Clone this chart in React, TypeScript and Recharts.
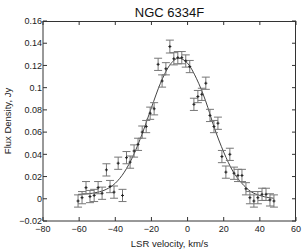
import { ComposedChart, Scatter, Line, XAxis, YAxis, ErrorBar } from 'recharts';

// measured spectrum (km/s, Jy)
const velocity = [
  -60.6, -58.4, -56.2, -54.0, -51.7, -49.5, -47.3, -44.9, -42.9, -40.7,
  -38.4, -36.0, -33.8, -31.8, -29.6, -27.4, -25.1, -22.9, -20.7, -18.5,
  -16.3, -14.1, -12.0, -9.8, -7.6, -5.4, -3.2, -1.0, 1.2, 3.5,
  5.7, 7.9, 10.1, 12.4, 14.6, 16.8, 19.0, 21.2, 23.4, 25.7,
  27.9, 30.1, 32.3, 34.5, 36.7, 38.9, 41.2, 43.4, 45.6, 47.8,
];
const flux = [
  -0.002, 0.001, 0.010, 0.002, 0.003, 0.010, 0.005, 0.026, 0.011, 0.006,
  0.032, 0.003, 0.037, 0.033, 0.043, 0.049, 0.060, 0.065, 0.077, 0.081,
  0.121, 0.106, 0.117, 0.137, 0.126, 0.127, 0.127, 0.124, 0.119, 0.085,
  0.092, 0.094, 0.104, 0.075, 0.065, 0.068, 0.038, 0.024, 0.040, 0.023,
  0.021, 0.021, 0.009, 0.001, -0.002, 0.001, 0.004, 0.004, -0.001, -0.002,
];
const fluxErr = [
  0.0055, 0.0055, 0.0055, 0.0055, 0.0055, 0.0055, 0.0055, 0.0055, 0.0055, 0.0055,
  0.0055, 0.0055, 0.0055, 0.0055, 0.0055, 0.0055, 0.0055, 0.0055, 0.0055, 0.0055,
  0.0055, 0.0055, 0.0055, 0.0058, 0.0055, 0.0055, 0.0055, 0.0055, 0.0055, 0.0055,
  0.0055, 0.0055, 0.0055, 0.0055, 0.0055, 0.0055, 0.0055, 0.0055, 0.0055, 0.0055,
  0.0055, 0.0055, 0.0055, 0.0055, 0.0055, 0.0055, 0.0055, 0.0055, 0.0055, 0.0055,
];

// fitted profile
const fitVelocity = [
  -60.6, -55, -50, -45, -40, -35, -30, -25, -20, -15, -10, -5,
  0, 5, 10, 15, 20, 25, 30, 35, 40, 45, 47.8,
];
const fitFlux = [
  0.004, 0.0045, 0.0058, 0.0085, 0.014, 0.024, 0.039, 0.059, 0.082, 0.104, 0.120, 0.1265,
  0.122, 0.108, 0.088, 0.063, 0.042, 0.025, 0.014, 0.0065, 0.003, 0.001, 0.0005,
];

const xTicks = [-80, -60, -40, -20, 0, 20, 40, 60];
const yTicks = [-0.02, 0, 0.02, 0.04, 0.06, 0.08, 0.1, 0.12, 0.14, 0.16];

const points = velocity.map((v, i) => ({ v, f: flux[i], err: fluxErr[i] }));
const fit = fitVelocity.map((v, i) => ({ v, f: fitFlux[i] }));

const W = 306;
const H = 249;
const M = { top: 21, right: 10, bottom: 0, left: 0 };
const Y_AXIS_W = 43;
const X_AXIS_H = 28;
const PLOT_L = M.left + Y_AXIS_W;
const PLOT_T = M.top;
const PLOT_R = W - M.right;
const PLOT_B = H - M.bottom - X_AXIS_H;
const TICK = 4;

const FONT = '"Liberation Sans", Arial, Helvetica, sans-serif';
const INK = '#333';
const minus = (s: string) => s.replace('-', '\u2212');

const PlusMark = (props: any) => {
  const { cx, cy } = props;
  return (
    <g>
      <line x1={cx - 1.5} y1={cy} x2={cx + 1.5} y2={cy} stroke="#222" strokeWidth={1} />
      <line x1={cx} y1={cy - 1.5} x2={cx} y2={cy + 1.5} stroke="#222" strokeWidth={1} />
    </g>
  );
};

// bottom tick label + matching inward tick on the top frame edge
const XTick = (props: any) => {
  const { x, y, payload } = props;
  return (
    <g>
      <path d={`M${x},${PLOT_T}V${PLOT_T + TICK}`} stroke={INK} strokeWidth={1} fill="none" />
      <text x={x} y={y} dy="0.71em" textAnchor="middle" fontSize={9} fill="#222" fontFamily={FONT}>
        {minus(String(payload.value))}
      </text>
    </g>
  );
};

// left tick label + matching inward tick on the right frame edge
const YTick = (props: any) => {
  const { x, y, payload } = props;
  return (
    <g>
      <path d={`M${PLOT_R},${y}H${PLOT_R - TICK}`} stroke={INK} strokeWidth={1} fill="none" />
      <text x={x} y={y} dy="0.355em" textAnchor="end" fontSize={9} fill="#222" fontFamily={FONT}>
        {minus(String(Math.round(payload.value * 100) / 100))}
      </text>
    </g>
  );
};

const YLabel = (props: any) => {
  const vb = props.viewBox || { x: 0, y: PLOT_T, width: Y_AXIS_W, height: PLOT_B - PLOT_T };
  const cx = vb.x + 7;
  const cy = vb.y + vb.height / 2;
  return (
    <text
      x={cx}
      y={cy}
      transform={`rotate(-90 ${cx} ${cy})`}
      textAnchor="middle"
      dominantBaseline="central"
      fontSize={9.5}
      fill="#222"
      fontFamily={FONT}
    >
      Flux Density, Jy
    </text>
  );
};

export default function App() {
  const axisStroke = { stroke: INK };
  return (
    <div style={{ position: 'absolute', left: 0, top: 0, width: W, height: H, background: '#fff', fontFamily: FONT }}>
      <div
        style={{
          position: 'absolute',
          left: PLOT_L,
          width: PLOT_R - PLOT_L,
          top: 6,
          textAlign: 'center',
          fontSize: 13,
          lineHeight: '13px',
          color: '#111',
        }}
      >
        NGC 6334F
      </div>
      {/* frame box around the plot area */}
      <div
        style={{
          position: 'absolute',
          left: PLOT_L,
          top: PLOT_T,
          width: PLOT_R - PLOT_L,
          height: PLOT_B - PLOT_T,
          boxSizing: 'border-box',
          borderTop: `1px solid ${INK}`,
          borderRight: `1px solid ${INK}`,
        }}
      />
      <ComposedChart width={W} height={H} margin={M} style={{ fontFamily: FONT }}>
        <XAxis
          dataKey="v"
          type="number"
          domain={[-80, 60]}
          ticks={xTicks}
          interval={0}
          allowDataOverflow
          height={X_AXIS_H}
          tickSize={-TICK}
          tickMargin={9}
          axisLine={axisStroke}
          tickLine={axisStroke}
          tick={XTick}
          label={{ value: 'LSR velocity, km/s', position: 'insideBottom', offset: 2, fontSize: 9.5, fill: '#222' }}
        />
        <YAxis
          type="number"
          domain={[-0.02, 0.16]}
          ticks={yTicks}
          interval={0}
          allowDataOverflow
          width={Y_AXIS_W}
          tickSize={-TICK}
          tickMargin={5}
          axisLine={axisStroke}
          tickLine={axisStroke}
          tick={YTick}
          label={{ content: YLabel }}
        />
        <Line
          data={fit}
          dataKey="f"
          type="monotone"
          stroke="#444"
          strokeWidth={1}
          dot={false}
          activeDot={false}
          isAnimationActive={false}
        />
        <Scatter data={points} dataKey="f" shape={PlusMark} isAnimationActive={false}>
          <ErrorBar dataKey="err" direction="y" width={4} stroke="#777" strokeWidth={1} />
        </Scatter>
      </ComposedChart>
    </div>
  );
}
